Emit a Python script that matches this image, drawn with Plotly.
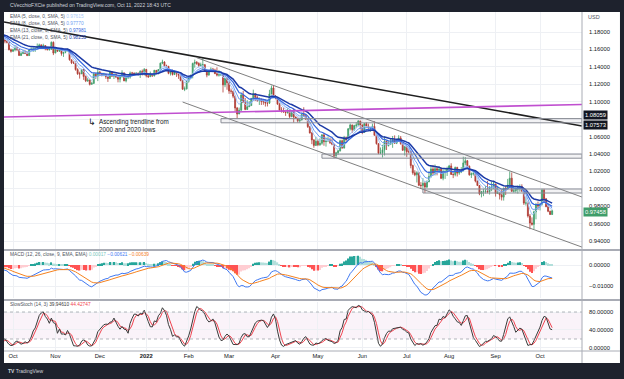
import pandas as pd
import plotly.graph_objects as go

# ---------------- data (EUR/USD daily) ----------------
start_date = "2021-08-02"
first_open = 1.1867
closes = [
 1.1870, 1.1867, 1.1837, 1.1833, 1.1761,
 1.1735, 1.1718, 1.1739, 1.1730, 1.1794,
 1.1779, 1.1711, 1.1712, 1.1675, 1.1698,
 1.1746, 1.1756, 1.1771, 1.1750, 1.1794,
 1.1798, 1.1807, 1.1838, 1.1875, 1.1879,
 1.1869, 1.1839, 1.1818, 1.1826, 1.1813,
 1.1807, 1.1804, 1.1819, 1.1765, 1.1725,
 1.1728, 1.1726, 1.1688, 1.1740, 1.1720,
 1.1695, 1.1683, 1.1596, 1.1579, 1.1596,
 1.1621, 1.1598, 1.1530, 1.1552, 1.1570,
 1.1552, 1.1529, 1.1595, 1.1601, 1.1601,
 1.1608, 1.1634, 1.1652, 1.1623, 1.1644,
 1.1608, 1.1598, 1.1603, 1.1681, 1.1558,
 1.1607, 1.1580, 1.1611, 1.1553, 1.1568,
 1.1588, 1.1594, 1.1481, 1.1446, 1.1445,
 1.1368, 1.1320, 1.1319, 1.1370, 1.1289,
 1.1239, 1.1249, 1.1199, 1.1210, 1.1318,
 1.1292, 1.1338, 1.1319, 1.1303, 1.1316,
 1.1287, 1.1267, 1.1343, 1.1292, 1.1316,
 1.1283, 1.1258, 1.1289, 1.1331, 1.1239,
 1.1281, 1.1283, 1.1329, 1.1328, 1.1322,
 1.1328, 1.1311, 1.1349, 1.1325, 1.1370,
 1.1297, 1.1287, 1.1314, 1.1296, 1.1360,
 1.1326, 1.1369, 1.1442, 1.1455, 1.1412,
 1.1407, 1.1325, 1.1343, 1.1311, 1.1344,
 1.1327, 1.1302, 1.1242, 1.1143, 1.1147,
 1.1234, 1.1273, 1.1304, 1.1439, 1.1452,
 1.1440, 1.1415, 1.1422, 1.1424, 1.1349,
 1.1305, 1.1358, 1.1374, 1.1363, 1.1321,
 1.1305, 1.1308, 1.1309, 1.1193, 1.1270,
 1.1218, 1.1123, 1.1120, 1.1063, 1.0927,
 1.0858, 1.0902, 1.1077, 1.0989, 1.0911,
 1.0941, 1.0955, 1.1035, 1.1092, 1.1050,
 1.1016, 1.1025, 1.1003, 1.0998, 1.0984,
 1.0983, 1.1088, 1.1158, 1.1067, 1.1046,
 1.0971, 1.0902, 1.0900, 1.0880, 1.0876,
 1.0884, 1.0829, 1.0890, 1.0825, 1.0810,
 1.0780, 1.0789, 1.0853, 1.0838, 1.0799,
 1.0713, 1.0640, 1.0561, 1.0498, 1.0545,
 1.0504, 1.0522, 1.0618, 1.0541, 1.0550,
 1.0559, 1.0530, 1.0512, 1.0381, 1.0413,
 1.0436, 1.0551, 1.0467, 1.0587, 1.0561,
 1.0688, 1.0733, 1.0678, 1.0725, 1.0733,
 1.0779, 1.0733, 1.0648, 1.0748, 1.0719,
 1.0697, 1.0705, 1.0716, 1.0614, 1.0518,
 1.0408, 1.0413, 1.0447, 1.0546, 1.0497,
 1.0510, 1.0533, 1.0567, 1.0523, 1.0553,
 1.0583, 1.0518, 1.0442, 1.0484, 1.0425,
 1.0425, 1.0266, 1.0183, 1.0160, 1.0185,
 1.0040, 1.0037, 1.0063, 1.0020, 1.0080,
 1.0142, 1.0227, 1.0180, 1.0230, 1.0212,
 1.0224, 1.0120, 1.0198, 1.0198, 1.0225,
 1.0262, 1.0164, 1.0162, 1.0245, 1.0180,
 1.0195, 1.0211, 1.0297, 1.0321, 1.0259,
 1.0160, 1.0172, 1.0178, 1.0088, 1.0037,
 0.9942, 0.9967, 0.9970, 0.9974, 0.9966,
 1.0003, 1.0020, 1.0055, 0.9945, 0.9954,
 0.9930, 0.9904, 1.0008, 0.9999, 1.0041,
 1.0121, 0.9970, 0.9977, 0.9995, 1.0014,
 1.0026, 0.9972, 0.9835, 0.9837, 0.9688,
 0.9607, 0.9591, 0.9735, 0.9816, 0.9802,
 0.9824, 0.9985, 0.9884, 0.9794, 0.9741,
 0.9705, 0.9746,
]
highs = [
 1.1892, 1.1892, 1.1900, 1.1865, 1.1840,
 1.1770, 1.1748, 1.1745, 1.1752, 1.1805,
 1.1800, 1.1785, 1.1745, 1.1717, 1.1702,
 1.1752, 1.1765, 1.1775, 1.1779, 1.1800,
 1.1810, 1.1846, 1.1857, 1.1880, 1.1909,
 1.1885, 1.1870, 1.1844, 1.1844, 1.1846,
 1.1817, 1.1846, 1.1830, 1.1820, 1.1777,
 1.1751, 1.1746, 1.1738, 1.1751, 1.1748,
 1.1720, 1.1705, 1.1686, 1.1610, 1.1608,
 1.1640, 1.1624, 1.1596, 1.1572, 1.1592,
 1.1587, 1.1573, 1.1596, 1.1624, 1.1624,
 1.1625, 1.1668, 1.1666, 1.1658, 1.1665,
 1.1646, 1.1623, 1.1619, 1.1692, 1.1692,
 1.1616, 1.1616, 1.1616, 1.1617, 1.1571,
 1.1595, 1.1608, 1.1593, 1.1483, 1.1465,
 1.1464, 1.1384, 1.1344, 1.1375, 1.1374,
 1.1301, 1.1275, 1.1254, 1.1229, 1.1330,
 1.1328, 1.1383, 1.1353, 1.1333, 1.1332,
 1.1318, 1.1295, 1.1355, 1.1352, 1.1322,
 1.1320, 1.1306, 1.1301, 1.1361, 1.1331,
 1.1302, 1.1306, 1.1346, 1.1342, 1.1335,
 1.1336, 1.1333, 1.1360, 1.1369, 1.1386,
 1.1376, 1.1320, 1.1346, 1.1319, 1.1365,
 1.1363, 1.1372, 1.1449, 1.1482, 1.1465,
 1.1425, 1.1409, 1.1352, 1.1369, 1.1363,
 1.1348, 1.1329, 1.1310, 1.1247, 1.1174,
 1.1239, 1.1274, 1.1309, 1.1448, 1.1483,
 1.1466, 1.1452, 1.1448, 1.1495, 1.1431,
 1.1372, 1.1369, 1.1395, 1.1388, 1.1378,
 1.1395, 1.1362, 1.1345, 1.1274, 1.1273,
 1.1274, 1.1233, 1.1151, 1.1124, 1.1069,
 1.0939, 1.0932, 1.1087, 1.1122, 1.1042,
 1.1018, 1.1006, 1.1044, 1.1138, 1.1092,
 1.1069, 1.1048, 1.1037, 1.1022, 1.1027,
 1.1009, 1.1137, 1.1185, 1.1183, 1.1076,
 1.1054, 1.0985, 1.0937, 1.0935, 1.0888,
 1.0922, 1.0897, 1.0895, 1.0924, 1.0828,
 1.0814, 1.0808, 1.0866, 1.0936, 1.0852,
 1.0800, 1.0718, 1.0653, 1.0569, 1.0594,
 1.0566, 1.0579, 1.0628, 1.0642, 1.0589,
 1.0600, 1.0587, 1.0577, 1.0514, 1.0424,
 1.0445, 1.0563, 1.0565, 1.0607, 1.0599,
 1.0696, 1.0749, 1.0735, 1.0735, 1.0765,
 1.0787, 1.0779, 1.0737, 1.0752, 1.0764,
 1.0749, 1.0708, 1.0748, 1.0774, 1.0622,
 1.0523, 1.0474, 1.0505, 1.0601, 1.0552,
 1.0545, 1.0583, 1.0606, 1.0613, 1.0575,
 1.0615, 1.0606, 1.0531, 1.0485, 1.0487,
 1.0462, 1.0434, 1.0277, 1.0213, 1.0201,
 1.0153, 1.0076, 1.0122, 1.0090, 1.0096,
 1.0201, 1.0269, 1.0273, 1.0278, 1.0254,
 1.0259, 1.0248, 1.0224, 1.0235, 1.0254,
 1.0274, 1.0293, 1.0180, 1.0254, 1.0252,
 1.0225, 1.0248, 1.0368, 1.0364, 1.0330,
 1.0267, 1.0187, 1.0202, 1.0199, 1.0094,
 1.0040, 0.9974, 0.9999, 1.0030, 1.0090,
 1.0030, 1.0080, 1.0080, 1.0056, 1.0034,
 0.9955, 0.9987, 1.0011, 1.0029, 1.0113,
 1.0198, 1.0187, 1.0021, 1.0017, 1.0037,
 1.0050, 1.0051, 0.9976, 0.9908, 0.9853,
 0.9711, 0.9671, 0.9748, 0.9838, 0.9853,
 0.9839, 0.9999, 0.9999, 0.9893, 0.9827,
 0.9749, 0.9760,
]
lows = [
 1.1853, 1.1845, 1.1830, 1.1822, 1.1753,
 1.1728, 1.1706, 1.1705, 1.1722, 1.1727,
 1.1766, 1.1700, 1.1697, 1.1665, 1.1664,
 1.1693, 1.1735, 1.1727, 1.1736, 1.1736,
 1.1780, 1.1790, 1.1800, 1.1829, 1.1857,
 1.1859, 1.1835, 1.1803, 1.1799, 1.1808,
 1.1770, 1.1785, 1.1800, 1.1750, 1.1700,
 1.1701, 1.1703, 1.1684, 1.1684, 1.1701,
 1.1670, 1.1669, 1.1590, 1.1563, 1.1571,
 1.1578, 1.1580, 1.1529, 1.1527, 1.1548,
 1.1547, 1.1524, 1.1525, 1.1585, 1.1571,
 1.1572, 1.1605, 1.1625, 1.1618, 1.1618,
 1.1590, 1.1587, 1.1585, 1.1595, 1.1535,
 1.1558, 1.1570, 1.1571, 1.1528, 1.1514,
 1.1556, 1.1575, 1.1471, 1.1432, 1.1434,
 1.1356, 1.1308, 1.1265, 1.1318, 1.1250,
 1.1225, 1.1227, 1.1186, 1.1206, 1.1207,
 1.1260, 1.1236, 1.1300, 1.1290, 1.1292,
 1.1262, 1.1227, 1.1260, 1.1286, 1.1260,
 1.1270, 1.1222, 1.1221, 1.1276, 1.1236,
 1.1222, 1.1260, 1.1265, 1.1305, 1.1314,
 1.1302, 1.1300, 1.1272, 1.1301, 1.1300,
 1.1279, 1.1272, 1.1285, 1.1285, 1.1290,
 1.1316, 1.1313, 1.1359, 1.1430, 1.1399,
 1.1395, 1.1315, 1.1300, 1.1301, 1.1307,
 1.1284, 1.1262, 1.1235, 1.1136, 1.1121,
 1.1140, 1.1219, 1.1262, 1.1268, 1.1390,
 1.1422, 1.1396, 1.1398, 1.1374, 1.1346,
 1.1280, 1.1300, 1.1347, 1.1340, 1.1318,
 1.1290, 1.1288, 1.1295, 1.1106, 1.1166,
 1.1137, 1.1090, 1.1089, 1.1040, 1.0889,
 1.0807, 1.0870, 1.0895, 1.0986, 1.0902,
 1.0905, 1.0940, 1.0955, 1.1016, 1.1008,
 1.0999, 1.0962, 1.0962, 1.0964, 1.0944,
 1.0945, 1.0975, 1.1085, 1.1056, 1.1028,
 1.0968, 1.0903, 1.0874, 1.0872, 1.0837,
 1.0862, 1.0809, 1.0821, 1.0758, 1.0805,
 1.0759, 1.0757, 1.0786, 1.0824, 1.0791,
 1.0698, 1.0635, 1.0512, 1.0471, 1.0492,
 1.0489, 1.0493, 1.0505, 1.0494, 1.0484,
 1.0536, 1.0514, 1.0500, 1.0350, 1.0354,
 1.0390, 1.0427, 1.0461, 1.0463, 1.0532,
 1.0558, 1.0670, 1.0642, 1.0663, 1.0697,
 1.0717, 1.0680, 1.0627, 1.0642, 1.0702,
 1.0690, 1.0654, 1.0687, 1.0610, 1.0507,
 1.0397, 1.0398, 1.0359, 1.0382, 1.0445,
 1.0485, 1.0502, 1.0470, 1.0514, 1.0513,
 1.0540, 1.0506, 1.0436, 1.0382, 1.0366,
 1.0406, 1.0235, 1.0161, 1.0144, 1.0072,
 1.0030, 0.9999, 0.9998, 0.9952, 1.0007,
 1.0075, 1.0125, 1.0153, 1.0152, 1.0154,
 1.0180, 1.0111, 1.0097, 1.0113, 1.0147,
 1.0206, 1.0160, 1.0122, 1.0143, 1.0141,
 1.0160, 1.0180, 1.0198, 1.0271, 1.0239,
 1.0150, 1.0123, 1.0152, 1.0073, 1.0034,
 0.9926, 0.9901, 0.9915, 0.9945, 0.9948,
 0.9934, 0.9973, 0.9998, 0.9910, 0.9940,
 0.9877, 0.9865, 0.9864, 0.9929, 0.9990,
 1.0040, 0.9966, 0.9955, 0.9954, 0.9945,
 0.9966, 0.9966, 0.9814, 0.9807, 0.9669,
 0.9535, 0.9576, 0.9536, 0.9649, 0.9755,
 0.9751, 0.9808, 0.9837, 0.9789, 0.9731,
 0.9700, 0.9700,
]

# month ticks
tick_dates = ["2021-10-01", "2021-11-01", "2021-12-01", "2022-01-03", "2022-02-01", "2022-03-01",
              "2022-04-01", "2022-05-02", "2022-06-01", "2022-07-01", "2022-08-01", "2022-09-01", "2022-10-03"]
tick_labels = ["Oct", "Nov", "Dec", "<b>2022</b>", "Feb", "Mar", "Apr", "May", "Jun", "Jul", "Aug", "Sep", "Oct"]
price_ticks = [0.94, 0.96, 0.98, 1.00, 1.02, 1.04, 1.06, 1.08, 1.10, 1.12, 1.14, 1.16, 1.18]
hidden_price_labels = [1.08]  # covered by the zone price tags

# drawings (trendlines / zones) as date-price pairs
view_start, view_end = "2021-09-24 13:00", "2022-10-31 19:00"
black_line_dates = [view_start, view_end]
black_line_prices = [1.1915, 1.0721]
magenta_line_dates = [view_start, view_end]
magenta_line_prices = [1.0824, 1.0967]
channel_upper_dates = ["2022-02-07", view_end]
channel_upper_prices = [1.1505, 0.9905]
channel_lower_dates = ["2022-01-27", view_end]
channel_lower_prices = [1.0996, 0.9330]
zone_starts = ["2022-02-23", "2022-05-04", "2022-07-13"]
zone_tops = [1.08059, 1.0398, 0.9997]
zone_bottoms = [1.07573, 1.0351, 0.9951]

ema_periods = [5, 8, 13, 21]
ema_colors = ["#a9c9f8", "#6f9ff2", "#3567de", "#1c3aa6"]
ema_widths = [1.0, 1.0, 1.2, 1.5]
ema_values = ["0.97615", "0.97770", "0.97981", "0.98255"]
macd_values = ["0.00017", "\u22120.00621", "\u22120.00639"]
stoch_values = ["39.94610", "44.42747"]

# ---------------- derived series ----------------
dates = pd.bdate_range(start_date, periods=len(closes))
c = pd.Series(closes, index=dates)
h = pd.Series(highs, index=dates)
l = pd.Series(lows, index=dates)
o = c.shift(1)
o.iloc[0] = first_open

emas = [c.ewm(span=p, adjust=False).mean() for p in ema_periods]
macd = c.ewm(span=12, adjust=False).mean() - c.ewm(span=26, adjust=False).mean()
signal = macd.ewm(span=9, adjust=False).mean()
hist = macd - signal
hist_colors = []
prev = 0.0
for v in hist:
    if v >= 0:
        hist_colors.append("#26a69a" if v >= prev else "#b2dfdb")
    else:
        hist_colors.append("#ffcdd2" if v >= prev else "#ff5252")
    prev = v
hh = h.rolling(14).max()
ll = l.rolling(14).min()
fastk = 100 * (c - ll) / (hh - ll)
k = fastk.rolling(3).mean()
d = k.rolling(3).mean()

# ---------------- figure ----------------
fig = go.Figure()
GRID = "#eef0f4"
TXT = "#131722"
FONT = "Liberation Sans"

fig.add_trace(go.Candlestick(
    x=dates, open=o, high=h, low=l, close=c, xaxis="x", yaxis="y",
    increasing=dict(line=dict(color="#3f9d6a", width=0.8), fillcolor="#3f9d6a"),
    decreasing=dict(line=dict(color="#b03c35", width=0.8), fillcolor="#b03c35"),
    hoverinfo="skip", whiskerwidth=0))
for e, col, w in zip(emas, ema_colors, ema_widths):
    fig.add_trace(go.Scatter(x=dates, y=e, mode="lines", line=dict(color=col, width=w),
                             xaxis="x", yaxis="y", hoverinfo="skip"))

for xs, ys, col, w in [(black_line_dates, black_line_prices, "#1f1f1f", 1.6),
                       (magenta_line_dates, magenta_line_prices, "#c04fd0", 1.6),
                       (channel_upper_dates, channel_upper_prices, "#707070", 0.9),
                       (channel_lower_dates, channel_lower_prices, "#707070", 0.9)]:
    fig.add_trace(go.Scatter(x=xs, y=ys, mode="lines", line=dict(color=col, width=w),
                             xaxis="x", yaxis="y", hoverinfo="skip"))

fig.add_trace(go.Bar(x=dates, y=hist, marker=dict(color=hist_colors, line=dict(width=0)),
                     xaxis="x", yaxis="y2", hoverinfo="skip"))
fig.add_trace(go.Scatter(x=dates, y=macd, mode="lines", line=dict(color="#3f78f2", width=1),
                         xaxis="x", yaxis="y2", hoverinfo="skip"))
fig.add_trace(go.Scatter(x=dates, y=signal, mode="lines", line=dict(color="#f5821f", width=1),
                         xaxis="x", yaxis="y2", hoverinfo="skip"))
fig.add_trace(go.Scatter(x=dates, y=d, mode="lines", line=dict(color="#f0434f", width=1),
                         xaxis="x", yaxis="y3", hoverinfo="skip"))
fig.add_trace(go.Scatter(x=dates, y=k, mode="lines", line=dict(color="#3a3a3a", width=1),
                         xaxis="x", yaxis="y3", hoverinfo="skip"))

shapes = []
# white chart panel
shapes.append(dict(type="rect", xref="paper", yref="paper", x0=0, x1=1.0657, y0=-0.0354, y1=1,
                   fillcolor="white", line=dict(width=0), layer="below"))
for zs, zt, zb in zip(zone_starts, zone_tops, zone_bottoms):
    shapes.append(dict(type="rect", xref="x", yref="y", x0=zs, x1=view_end, y0=zb, y1=zt,
                       fillcolor="rgba(149,152,161,0.12)", line=dict(color="#8a8d96", width=1)))
# stoch band
shapes.append(dict(type="rect", xref="paper", yref="y3", x0=0, x1=1, y0=20, y1=80,
                   fillcolor="rgba(200,120,190,0.09)", line=dict(width=0), layer="below"))
for lv in (20, 80):
    shapes.append(dict(type="line", xref="paper", yref="y3", x0=0, x1=1, y0=lv, y1=lv,
                       line=dict(color="#a0a3ab", width=0.8, dash="dot")))
# pane separators
for py in (0.2979, 0.1504):
    shapes.append(dict(type="line", xref="paper", yref="paper", x0=0, x1=1.0657, y0=py, y1=py,
                       line=dict(color="#a9acb5", width=2)))
shapes.append(dict(type="line", xref="paper", yref="paper", x0=0, x1=1.0657, y0=0, y1=0,
                   line=dict(color="#a9acb5", width=1)))
shapes.append(dict(type="line", xref="paper", yref="paper", x0=1, x1=1, y0=-0.0354, y1=1,
                   line=dict(color="#a9acb5", width=1)))

ann = []
def txt(x, y, s, size=5, color=TXT, xanchor="left", yanchor="middle", family=FONT, **kw):
    ann.append(dict(xref="paper", yref="paper", x=x, y=y, text=s, showarrow=False,
                    xanchor=xanchor, yanchor=yanchor, font=dict(size=size, color=color, family=family), **kw))

txt(0.0069, 1.0206, "CVecchioFXCie published on TradingView.com, Oct 11, 2022 18:43 UTC", size=5, color="#d1d4dc")
for i, (p, col, val) in enumerate(zip(ema_periods, ema_colors, ema_values)):
    y = 0.9882 - i * 0.0207
    txt(0.0069, y, f"EMA ({p}, close, 0, SMA, 5) <span style='color:{col}'>{val}</span>", size=4.8, color="#50535e")
txt(0.0069, 0.2861, "MACD (12, 26, close, 9, EMA, EMA) "
    f"<span style='color:#7cc7bd'>{macd_values[0]}</span> "
    f"<span style='color:#3f78f2'>{macd_values[1]}</span> "
    f"<span style='color:#f5821f'>{macd_values[2]}</span>", size=4.8, color="#50535e")
txt(0.0069, 0.1357, "SlowStoch (14, 3) "
    f"<span style='color:#3a3a3a'>{stoch_values[0]}</span> "
    f"<span style='color:#f0434f'>{stoch_values[1]}</span>", size=4.8, color="#50535e")
txt(0.1420, 0.6755, "\u21b3", size=9, family="DejaVu Sans")
txt(0.1609, 0.665, "Ascending trendline from<br>2000 and 2020 lows", size=6.3, align="left")
txt(1.007, 0.985, "USD", size=5.5, color="#50535e")
txt(0.0035, -0.059, "<b>TV</b> TradingView", size=5, color="#d1d4dc")

for val, ys, bg in [("1.08059", 4, "#131722"), ("1.07573", -2, "#131722"), ("0.97458", -1, "#3f9d6a")]:
    ann.append(dict(xref="paper", yref="y", x=1, y=float(val), text=val, showarrow=False,
                    xanchor="left", yanchor="middle", xshift=1, yshift=ys, bgcolor=bg, borderpad=1,
                    font=dict(size=5.8, color="white", family=FONT)))

axfont = dict(size=5.8, color=TXT, family=FONT)
fig.update_layout(
    width=624, height=379, margin=dict(l=4, r=42, t=12, b=28, autoexpand=False),
    paper_bgcolor="#1e222d", plot_bgcolor="white", showlegend=False, bargap=0.35,
    shapes=shapes, annotations=ann,
    xaxis=dict(type="date", range=[view_start, view_end], rangebreaks=[dict(bounds=["sat", "mon"])],
               tickvals=tick_dates, ticktext=tick_labels, tickfont=axfont, ticks="",
               showgrid=True, gridcolor=GRID, gridwidth=1, zeroline=False, showline=False,
               anchor="y3", rangeslider=dict(visible=False), fixedrange=True, automargin=False),
    yaxis=dict(domain=[0.3009, 1], range=[0.93082, 1.20297], side="right", tickvals=price_ticks,
               ticktext=["" if v in hidden_price_labels else f"{v:.5f}" for v in price_ticks],
               tickfont=axfont, ticks="", automargin=False,
               showgrid=True, gridcolor=GRID, zeroline=False, anchor="x", ticklabelstandoff=6),
    yaxis2=dict(domain=[0.1563, 0.2950], range=[-0.0157, 0.00667], side="right", tickvals=[0, -0.01],
                ticktext=["0.00000", "\u22120.01000"], tickfont=axfont, ticks="", automargin=False,
                showgrid=True, gridcolor=GRID, zeroline=False, anchor="x", ticklabelstandoff=6),
    yaxis3=dict(domain=[0, 0.1445], range=[-6.7, 102.2], side="right", tickvals=[0, 40, 80],
                ticktext=["0.00000", "40.00000", "80.00000"], tickfont=axfont, ticks="", automargin=False,
                showgrid=True, gridcolor=GRID, zeroline=False, anchor="x", ticklabelstandoff=6),
)
fig.write_html("out.html", config={"displayModeBar": False},
               post_script="document.body.style.margin='0px';document.body.style.overflow='hidden';")
